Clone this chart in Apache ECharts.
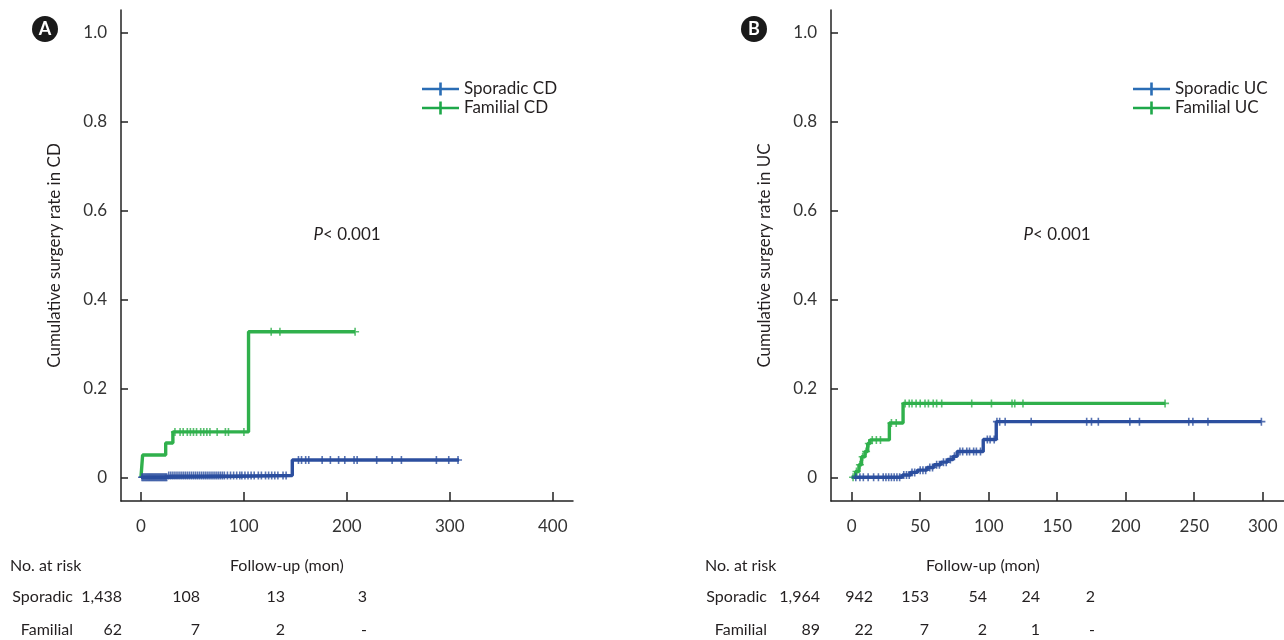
<!DOCTYPE html>
<html>
<head>
<meta charset="utf-8">
<script src="https://cdn.jsdelivr.net/npm/echarts@6/dist/echarts.min.js"></script>
<style>
  html, body { margin: 0; padding: 0; background: #fff; }
  #chart { width: 1284px; height: 640px; }
</style>
</head>
<body>
<div id="chart"></div>
<script>
// panel A - Crohn's disease
const cdSporadicTimes = [0, 26, 147, 309];
const cdSporadicRates = [0, 0.004, 0.039, 0.039];
const cdSporadicCensor = [1, 2, 3, 4, 5, 6, 7, 8, 9, 10, 11, 12, 13, 14, 15, 16, 17, 18, 19, 20, 21, 22, 23, 24, 25, 27, 29, 31, 33, 35, 37, 39, 41, 43, 45, 47, 49, 51, 53, 55, 57, 59, 61, 63, 65, 67, 69, 71, 73, 75, 77, 79, 81, 84, 87, 90, 93, 96, 98, 101, 104, 107, 110, 114, 117, 121, 124, 127, 130, 133, 138, 141, 153, 156, 160, 163, 176, 184, 192, 198, 207, 210, 229, 244, 253, 287, 299, 308];
const cdFamilialTimes = [0, 1.6, 24, 31, 104.5, 208];
const cdFamilialRates = [0, 0.05, 0.077, 0.102, 0.327, 0.327];
const cdFamilialCensor = [33, 38, 41, 45, 48, 51, 54, 58, 61, 64, 67, 74, 82, 85, 100, 126.5, 135, 208];

// panel B - ulcerative colitis
const ucSporadicTimes = [0, 37, 43, 48, 55, 60, 65, 70, 74, 77, 96, 105.5, 299];
const ucSporadicRates = [0, 0.005, 0.011, 0.016, 0.022, 0.028, 0.034, 0.040, 0.047, 0.058, 0.085, 0.125, 0.125];
const ucSporadicCensor = [3, 6, 8.5, 12, 16, 19.5, 23, 25, 27, 29, 31, 33, 35, 38, 40, 42, 44, 46, 50, 52, 54, 57, 59, 62, 64, 67, 69, 72, 75, 79, 81, 84, 86, 89, 91, 94, 99, 101, 104, 106, 108, 112, 131, 171.5, 175, 180, 203, 210, 246, 249, 260, 299];
const ucFamilialTimes = [0, 2.9, 5.3, 7.2, 9.7, 11.7, 13.4, 27.5, 37.5, 229];
const ucFamilialRates = [0, 0.013, 0.028, 0.046, 0.058, 0.076, 0.084, 0.122, 0.166, 0.166];
const ucFamilialCensor = [1, 3.5, 6, 8, 10.5, 12.5, 15, 18, 21, 29, 32.5, 39, 42, 44, 47, 50, 53.5, 56, 59.5, 62, 65.7, 87.6, 102, 117, 119, 125, 228.7];

const yTicks = [0, 0.2, 0.4, 0.6, 0.8, 1.0];
const xTicksCD = [0, 100, 200, 300, 400];
const xTicksUC = [0, 50, 100, 150, 200, 250, 300];

const riskCDSporadic = ['1,438', '108', '13', '3'];
const riskCDFamilial = ['62', '7', '2', '-'];
const riskUCSporadic = ['1,964', '942', '153', '54', '24', '2'];
const riskUCFamilial = ['89', '22', '7', '2', '1', '-'];

const BLUE = '#2c4f9f';
const GREEN = '#30b04c';
const BLUE_LEG = '#2a6db5';
const GREEN_LEG = '#1ea84a';
const TXT = '#231f20';
const FONT = 'Lato, "Open Sans", sans-serif';

const plus = 'path://M0,4L10,4L10,6L0,6Z M4,0L6,0L6,10L4,10Z';
const legIcon = 'path://M0,5.2L37,5.2L37,7.8L0,7.8Z M17.2,0L19.8,0L19.8,13L17.2,13Z';

const pairs = (ts, vs) => ts.map((t, i) => [t, vs[i]]);
const rateAt = (ts, vs, t) => {
  let v = vs[0];
  for (let i = 0; i < ts.length; i++) if (ts[i] <= t) v = vs[i];
  return v;
};
const censorPts = (cs, ts, vs) => cs.map((t) => [t, rateAt(ts, vs, t)]);

const stepLine = (name, data, color, idx) => ({
  name, type: 'line', step: 'end', data,
  xAxisIndex: idx, yAxisIndex: idx,
  showSymbol: false, symbol: 'none',
  lineStyle: { color, width: 3.4 }, itemStyle: { color },
  z: 2, animation: false,
});
const marks = (name, data, color, idx) => ({
  name, type: 'scatter', data,
  xAxisIndex: idx, yAxisIndex: idx,
  symbol: plus, symbolSize: 8,
  itemStyle: { color }, z: 3, animation: false,
});

const makeX = (gi, min, max, ticks) => ({
  type: 'value', gridIndex: gi, min, max,
  axisLine: { onZero: false, lineStyle: { color: '#222', width: 1.5 } },
  axisTick: { inside: true, length: 9, customValues: ticks, lineStyle: { color: '#222', width: 1.5 } },
  axisLabel: { customValues: ticks, margin: 17, color: '#333', fontSize: 17, fontFamily: FONT },
  splitLine: { show: false },
});
const makeY = (gi, name) => ({
  type: 'value', gridIndex: gi, min: -0.0533, max: 1.0501,
  name, nameLocation: 'middle', nameRotate: 90, nameGap: 58,
  nameTextStyle: { color: TXT, fontSize: 17, fontFamily: FONT },
  axisLine: { onZero: false, lineStyle: { color: '#222', width: 1.5 } },
  axisTick: { inside: true, length: 7, customValues: yTicks, lineStyle: { color: '#222', width: 1.5 } },
  axisLabel: {
    customValues: yTicks, margin: 14, color: '#333', fontSize: 17, fontFamily: FONT,
    formatter: (v) => (v === 0 ? '0' : v.toFixed(1)),
  },
  splitLine: { show: false },
});

const textEl = (x, y, text, align, extra) => ({
  type: 'text', x, y,
  style: Object.assign({ text, fill: TXT, fontSize: 16, fontFamily: FONT, align, verticalAlign: 'middle' }, extra || {}),
});

const graphics = [];
// panel letters
[['A', 45], ['B', 754]].forEach(([l, cx]) => {
  graphics.push({ type: 'circle', shape: { cx, cy: 29, r: 13 }, style: { fill: '#1a1a1a' } });
  graphics.push(textEl(cx, 29, l, 'center', { fill: '#fff', fontSize: 18, fontWeight: 'bold' }));
});
// p values
[347, 1057].forEach((x) => {
  graphics.push({
    type: 'text', x, y: 235,
    style: {
      text: '{i|P}< 0.001', fill: TXT, fontSize: 17, fontFamily: FONT, align: 'center', verticalAlign: 'middle',
      rich: { i: { fontStyle: 'italic', fontSize: 17, fontFamily: FONT, fill: TXT } },
    },
  });
});
// risk tables
graphics.push(textEl(10, 566, 'No. at risk', 'left'));
graphics.push(textEl(705, 566, 'No. at risk', 'left'));
graphics.push(textEl(230, 566, 'Follow-up (mon)', 'left'));
graphics.push(textEl(926, 566, 'Follow-up (mon)', 'left'));
const rowY = [597, 630];
const colCD = [122, 200, 285, 367];
const colUC = [820, 873, 929, 987, 1040, 1095];
[['Sporadic', riskCDSporadic, riskUCSporadic], ['Familial', riskCDFamilial, riskUCFamilial]].forEach(([lab, a, b], r) => {
  graphics.push(textEl(73, rowY[r], lab, 'right'));
  graphics.push(textEl(767, rowY[r], lab, 'right'));
  a.forEach((s, i) => graphics.push(textEl(colCD[i], rowY[r], s, 'right')));
  b.forEach((s, i) => graphics.push(textEl(colUC[i], rowY[r], s, 'right')));
});

const legendBase = {
  orient: 'vertical', itemWidth: 37, itemHeight: 13, itemGap: 1,
  selectedMode: false,
  textStyle: { color: TXT, fontSize: 17, fontFamily: FONT, lineHeight: 18 },
};

const chart = echarts.init(document.getElementById('chart'));
chart.setOption({
  animation: false,
  backgroundColor: '#fff',
  grid: [
    { left: 121, top: 10, width: 452, height: 491 },
    { left: 831, top: 10, width: 453, height: 491 },
  ],
  xAxis: [makeX(0, -19.4, 419.7, xTicksCD), makeX(1, -15.1, 315.5, xTicksUC)],
  yAxis: [makeY(0, 'Cumulative surgery rate in CD'), makeY(1, 'Cumulative surgery rate in UC')],
  legend: [
    Object.assign({}, legendBase, {
      left: 417, top: 75,
      data: [
        { name: 'Sporadic CD', icon: legIcon, itemStyle: { color: BLUE_LEG } },
        { name: 'Familial CD', icon: legIcon, itemStyle: { color: GREEN_LEG } },
      ],
    }),
    Object.assign({}, legendBase, {
      left: 1128, top: 75,
      data: [
        { name: 'Sporadic UC', icon: legIcon, itemStyle: { color: BLUE_LEG } },
        { name: 'Familial UC', icon: legIcon, itemStyle: { color: GREEN_LEG } },
      ],
    }),
  ],
  series: [
    stepLine('Familial CD', pairs(cdFamilialTimes, cdFamilialRates), GREEN, 0),
    marks('Familial CD censored', censorPts(cdFamilialCensor, cdFamilialTimes, cdFamilialRates), GREEN, 0),
    stepLine('Sporadic CD', pairs(cdSporadicTimes, cdSporadicRates), BLUE, 0),
    marks('Sporadic CD censored', censorPts(cdSporadicCensor, cdSporadicTimes, cdSporadicRates), BLUE, 0),
    stepLine('Familial UC', pairs(ucFamilialTimes, ucFamilialRates), GREEN, 1),
    marks('Familial UC censored', censorPts(ucFamilialCensor, ucFamilialTimes, ucFamilialRates), GREEN, 1),
    stepLine('Sporadic UC', pairs(ucSporadicTimes, ucSporadicRates), BLUE, 1),
    marks('Sporadic UC censored', censorPts(ucSporadicCensor, ucSporadicTimes, ucSporadicRates), BLUE, 1),
  ],
  graphic: graphics,
});
window.addEventListener('resize', () => chart.resize());
</script>
</body>
</html>
